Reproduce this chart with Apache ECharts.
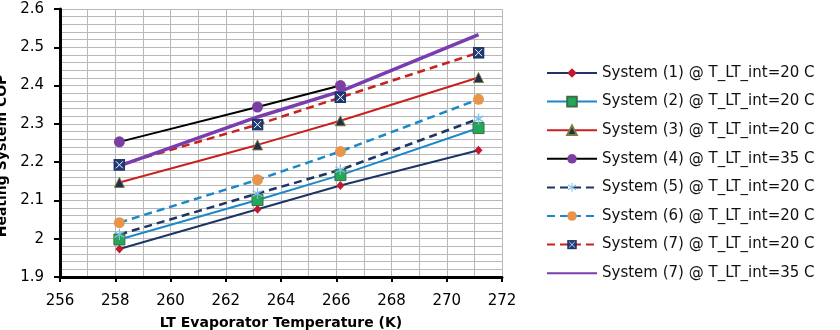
<!DOCTYPE html>
<html>
<head>
<meta charset="utf-8">
<script src="https://cdn.jsdelivr.net/npm/echarts@6/dist/echarts.min.js"></script>
<style>
  html, body { margin: 0; padding: 0; background: #fff; }
  #chart { width: 840px; height: 330px; }
</style>
</head>
<body>
<div id="chart"></div>
<script>
// evaporator temperatures (K)
const temps = [258.15, 263.15, 266.15, 271.15];
// heating system COP per system
const sys1 = [1.973, 2.077, 2.139, 2.231];
const sys2 = [1.998, 2.101, 2.166, 2.289];
const sys3 = [2.147, 2.245, 2.308, 2.421];
const sys4 = [2.253, 2.344, 2.400];
const sys5 = [2.011, 2.118, 2.180, 2.313];
const sys6 = [2.042, 2.154, 2.228, 2.364];
const sys7a = [2.193, 2.298, 2.369, 2.486];
const sys7b = [2.190, 2.318, 2.385, 2.533];
const names = [
  "System (1) @ T_LT_int=20 C",
  "System (2) @ T_LT_int=20 C",
  "System (3) @ T_LT_int=20 C",
  "System (4) @ T_LT_int=35 C",
  "System (5) @ T_LT_int=20 C",
  "System (6) @ T_LT_int=20 C",
  "System (7) @ T_LT_int=20 C",
  "System (7) @ T_LT_int=35 C"
];

function pairs(vals) {
  return vals.map((v, i) => [temps[i], v]);
}
function svgIcon(svg) {
  return "image://data:image/svg+xml;utf8," + encodeURIComponent(svg);
}
const starIcon = svgIcon(
  '<svg xmlns="http://www.w3.org/2000/svg" width="12" height="12" viewBox="0 0 12 12">' +
  '<g stroke="#7fbfe6" stroke-width="1.3"><line x1="6" y1="0.5" x2="6" y2="11.5"/>' +
  '<line x1="1" y1="3" x2="11" y2="9"/><line x1="1" y1="9" x2="11" y2="3"/></g></svg>'
);
const xBoxIcon = svgIcon(
  '<svg xmlns="http://www.w3.org/2000/svg" width="12" height="12" viewBox="0 0 12 12">' +
  '<rect x="0.5" y="0.5" width="11" height="11" fill="#1f3a74" stroke="#1a2f5c"/>' +
  '<g stroke="#ffffff" stroke-width="1"><line x1="2.5" y1="2.5" x2="9.5" y2="9.5"/>' +
  '<line x1="2.5" y1="9.5" x2="9.5" y2="2.5"/></g></svg>'
);

const dash = [8, 5];
const font = "DejaVu Sans";

// legend entries; the last one is a plain line with no marker
let legendData = names.map(n => ({ name: n }));
legendData[7].itemStyle = { opacity: 0 };

let myChart = echarts.init(document.getElementById("chart"));
let option = {
  animation: false,
  grid: { left: 60, right: 338, top: 9, bottom: 53, containLabel: false, outerBoundsMode: "none" },
  legend: {
    orient: "vertical",
    left: 541,
    top: 60,
    itemWidth: 50,
    itemHeight: 12,
    itemGap: 12.6,
    data: legendData,
    textStyle: { fontFamily: font, fontSize: 15, color: "#111", lineHeight: 16 }
  },
  xAxis: {
    type: "value",
    min: 256,
    max: 272,
    interval: 2,
    name: "LT Evaporator Temperature (K)",
    nameLocation: "middle",
    nameGap: 39,
    nameTextStyle: { fontFamily: font, fontSize: 14, fontWeight: "bold", color: "#000" },
    axisLine: { lineStyle: { color: "#000", width: 3 } },
    axisTick: { show: true, length: 5, lineStyle: { color: "#000", width: 2 } },
    axisLabel: { fontFamily: font, fontSize: 15, color: "#000", margin: 17 },
    splitLine: { show: true, lineStyle: { color: "#b8b8b8", width: 1 } },
    minorTick: { show: false, splitNumber: 2 },
    minorSplitLine: { show: true, lineStyle: { color: "#b8b8b8", width: 1 } }
  },
  yAxis: {
    type: "value",
    min: 1.9,
    max: 2.6,
    interval: 0.1,
    name: "Heating System COP",
    nameLocation: "middle",
    nameGap: 51,
    nameTextStyle: { fontFamily: font, fontSize: 14, fontWeight: "bold", color: "#000", padding: [0, 26, 0, 0] },
    axisLine: { show: true, lineStyle: { color: "#000", width: 3 } },
    axisTick: { show: true, length: 6, lineStyle: { color: "#000", width: 2 } },
    axisLabel: { fontFamily: font, fontSize: 15, color: "#000", margin: 16 },
    splitLine: { show: true, lineStyle: { color: "#b8b8b8", width: 1 } },
    minorTick: { show: false, splitNumber: 5 },
    minorSplitLine: { show: true, lineStyle: { color: "#b8b8b8", width: 1 } }
  },
  series: [
    {
      name: names[0], type: "line", data: pairs(sys1),
      symbol: "diamond", symbolSize: [8, 9],
      lineStyle: { color: "#1c3466", width: 2 },
      itemStyle: { color: "#c0182f" }
    },
    {
      name: names[1], type: "line", data: pairs(sys2),
      symbol: "rect", symbolSize: 11,
      lineStyle: { color: "#1c88c7", width: 2 },
      itemStyle: { color: "#22a858", borderColor: "#3d6f45", borderWidth: 1 }
    },
    {
      name: names[2], type: "line", data: pairs(sys3),
      symbol: "triangle", symbolSize: 10,
      lineStyle: { color: "#c9211e", width: 2 },
      itemStyle: { color: "#1f2d4e", borderColor: "#7d7d3a", borderWidth: 1 }
    },
    {
      name: names[3], type: "line", data: pairs(sys4),
      symbol: "circle", symbolSize: 11,
      lineStyle: { color: "#000", width: 2 },
      itemStyle: { color: "#7b3fa2" }
    },
    {
      name: names[4], type: "line", data: pairs(sys5),
      symbol: starIcon, symbolSize: 12,
      lineStyle: { color: "#1c3466", width: 2.5, type: dash },
      itemStyle: { color: "#7fbfe6" }
    },
    {
      name: names[5], type: "line", data: pairs(sys6),
      symbol: "circle", symbolSize: 11,
      lineStyle: { color: "#1c88c7", width: 2.5, type: dash },
      itemStyle: { color: "#e8954b" }
    },
    {
      name: names[6], type: "line", data: pairs(sys7a),
      symbol: xBoxIcon, symbolSize: 12,
      lineStyle: { color: "#c9211e", width: 2.5, type: dash },
      itemStyle: { color: "#1f3a74" }
    },
    {
      name: names[7], type: "line", data: pairs(sys7b),
      symbol: "none",
      lineStyle: { color: "#7a3db0", width: 3.5 },
      itemStyle: { color: "#7a3db0" }
    }
  ]
};
myChart.setOption(option, true);
window.addEventListener("resize", () => {
  myChart.resize();
});
</script>
</body>
</html>
